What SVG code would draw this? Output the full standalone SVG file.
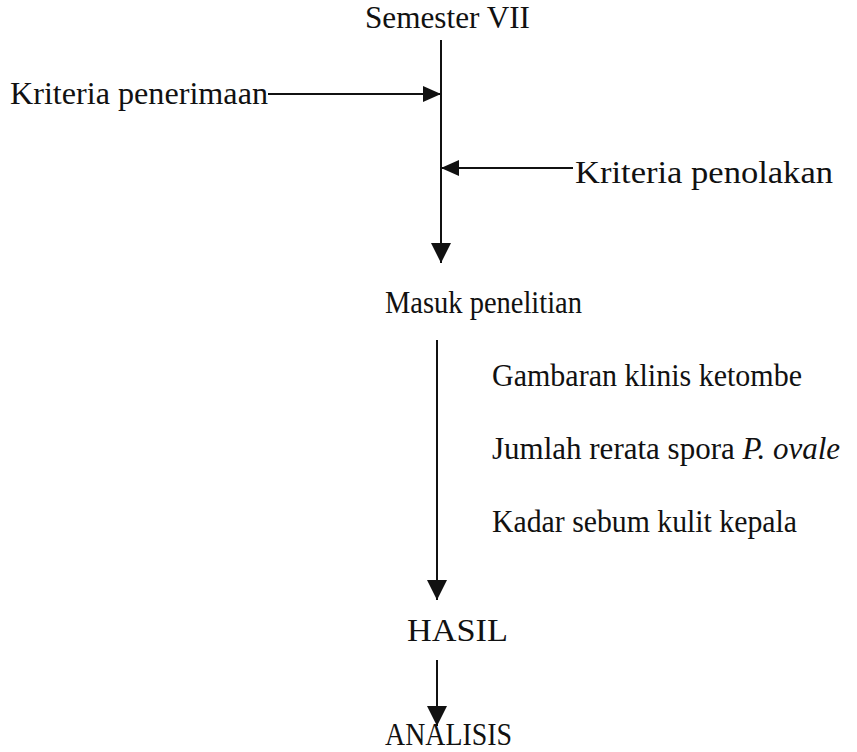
<svg xmlns="http://www.w3.org/2000/svg" width="857" height="752" viewBox="0 0 857 752">
<style>
text{font-family:'Liberation Serif','DejaVu Serif',serif;font-size:31px;fill:#111}
.ln{stroke:#111;stroke-width:2;fill:none}
</style>
<defs>
<marker id="ah" markerUnits="userSpaceOnUse" markerWidth="22" markerHeight="22" refX="20" refY="10" orient="auto">
<path d="M0,0 L20,10 L0,20 Z" fill="#111"/>
</marker>
<marker id="ahs" markerUnits="userSpaceOnUse" markerWidth="20" markerHeight="18" refX="18" refY="8" orient="auto">
<path d="M0,0 L18,8 L0,16 Z" fill="#111"/>
</marker>
</defs>
<rect width="857" height="752" fill="#fff"/>
<g id="connectors">
<line class="ln" x1="441" y1="40" x2="441" y2="263" marker-end="url(#ah)"/>
<line class="ln" x1="268" y1="94" x2="441" y2="94" marker-end="url(#ahs)"/>
<line class="ln" x1="573" y1="168" x2="441" y2="168" marker-end="url(#ahs)"/>
<line class="ln" x1="437" y1="340" x2="437" y2="600" marker-end="url(#ah)"/>
<line class="ln" x1="437" y1="660" x2="437" y2="726" marker-end="url(#ah)"/>
</g>
<g id="semester"><text x="365" y="28" font-family="Liberation Serif, serif" textLength="165" lengthAdjust="spacingAndGlyphs">Semester VII</text></g>
<g id="penerimaan"><text x="10" y="104" font-family="Liberation Serif, serif" textLength="258" lengthAdjust="spacingAndGlyphs">Kriteria penerimaan</text></g>
<g id="penolakan"><text x="575" y="183" font-family="Liberation Serif, serif" textLength="258" lengthAdjust="spacingAndGlyphs">Kriteria penolakan</text></g>
<g id="masuk"><text x="385" y="313" font-family="Liberation Serif, serif" textLength="197" lengthAdjust="spacingAndGlyphs">Masuk penelitian</text></g>
<g id="variabel" font-family="Liberation Serif, serif">
<text x="492" y="386" textLength="310" lengthAdjust="spacingAndGlyphs">Gambaran klinis ketombe</text>
<text x="492" y="459">Jumlah rerata spora <tspan font-style="italic">P. ovale</tspan></text>
<text x="492" y="532" textLength="305" lengthAdjust="spacingAndGlyphs">Kadar sebum kulit kepala</text>
</g>
<g id="hasil"><text x="407" y="641" font-family="Liberation Serif, serif" textLength="101" lengthAdjust="spacingAndGlyphs">HASIL</text></g>
<g id="analisis"><text x="385" y="745" font-family="Liberation Serif, serif" textLength="127" lengthAdjust="spacingAndGlyphs">ANALISIS</text></g>
</svg>
